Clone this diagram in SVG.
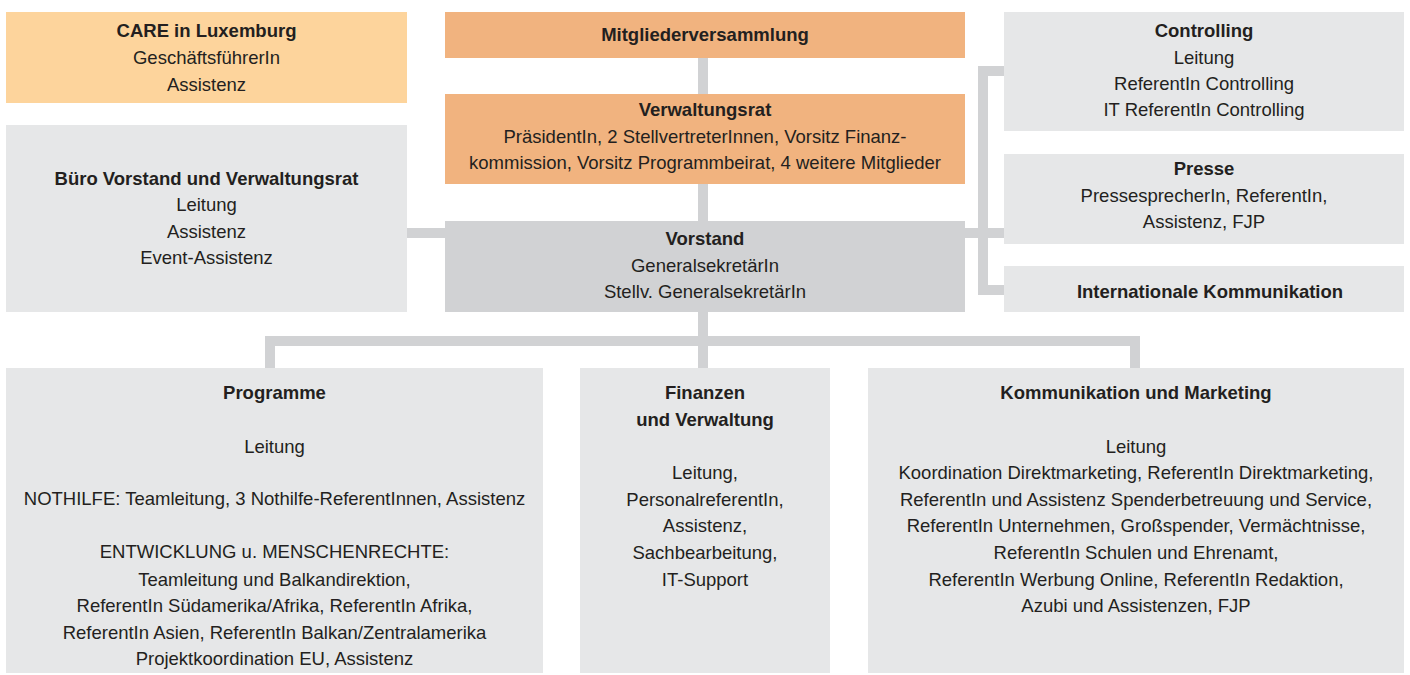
<svg xmlns="http://www.w3.org/2000/svg" width="1410" height="675" viewBox="0 0 1410 675">
<style>
.care{fill:#fdd49c}
.org{fill:#f1b37f}
.gr{fill:#e6e7e8}
.dk{fill:#d1d2d4}
.conn{fill:none;stroke:#d1d2d4;stroke-width:10;stroke-linejoin:miter}
text{font-family:"Liberation Sans",Arial,sans-serif;font-size:18.5px;fill:#231f20;text-anchor:middle}
.b{font-weight:bold}
</style>
<rect width="1410" height="675" fill="#ffffff"/>
<g id="connectors">
<path class="conn" d="M703,58 V368"/>
<path class="conn" d="M407,233 H445"/>
<path class="conn" d="M965,233 H1004"/>
<path class="conn" d="M1004,71 H983 V290 H1004"/>
<path class="conn" d="M270,368 V341 H1135 V368"/>
</g>
<g id="care">
<rect class="care" x="6" y="12" width="401" height="91"/>
<text x="206.5" y="37" class="b">CARE in Luxemburg</text>
<text x="206.5" y="64">GeschäftsführerIn</text>
<text x="206.5" y="91">Assistenz</text>
</g>
<g id="mitglieder">
<rect class="org" x="445" y="12" width="520" height="46"/>
<text x="705" y="41" class="b">Mitgliederversammlung</text>
</g>
<g id="verwaltungsrat">
<rect class="org" x="445" y="94" width="520" height="90"/>
<text x="705" y="116" class="b">Verwaltungsrat</text>
<text x="705" y="143">PräsidentIn, 2 StellvertreterInnen, Vorsitz Finanz-</text>
<text x="705" y="169">kommission, Vorsitz Programmbeirat, 4 weitere Mitglieder</text>
</g>
<g id="buero">
<rect class="gr" x="6" y="125" width="401" height="187"/>
<text x="206.5" y="185" class="b">Büro Vorstand und Verwaltungsrat</text>
<text x="206.5" y="211">Leitung</text>
<text x="206.5" y="238">Assistenz</text>
<text x="206.5" y="264">Event-Assistenz</text>
</g>
<g id="vorstand">
<rect class="dk" x="445" y="221" width="520" height="91"/>
<text x="705" y="245" class="b">Vorstand</text>
<text x="705" y="272">GeneralsekretärIn</text>
<text x="705" y="298">Stellv. GeneralsekretärIn</text>
</g>
<g id="controlling">
<rect class="gr" x="1004" y="12" width="400" height="119"/>
<text x="1204" y="37" class="b">Controlling</text>
<text x="1204" y="64">Leitung</text>
<text x="1204" y="90">ReferentIn Controlling</text>
<text x="1204" y="116">IT ReferentIn Controlling</text>
</g>
<g id="presse">
<rect class="gr" x="1004" y="154" width="400" height="90"/>
<text x="1204" y="175" class="b">Presse</text>
<text x="1204" y="202">PressesprecherIn, ReferentIn,</text>
<text x="1204" y="228">Assistenz, FJP</text>
</g>
<g id="intkomm">
<rect class="gr" x="1004" y="266" width="400" height="46"/>
<text x="1210" y="298" class="b">Internationale Kommunikation</text>
</g>
<g id="programme">
<rect class="gr" x="6" y="368" width="537" height="305"/>
<text x="274.5" y="399" class="b">Programme</text>
<text x="274.5" y="453">Leitung</text>
<text x="274.5" y="505">NOTHILFE: Teamleitung, 3 Nothilfe-ReferentInnen, Assistenz</text>
<text x="274.5" y="558">ENTWICKLUNG u. MENSCHENRECHTE:</text>
<text x="274.5" y="586">Teamleitung und Balkandirektion,</text>
<text x="274.5" y="612">ReferentIn Südamerika/Afrika, ReferentIn Afrika,</text>
<text x="274.5" y="639">ReferentIn Asien, ReferentIn Balkan/Zentralamerika</text>
<text x="274.5" y="665">Projektkoordination EU, Assistenz</text>
</g>
<g id="finanzen">
<rect class="gr" x="580" y="368" width="250" height="305"/>
<text x="705" y="399" class="b">Finanzen</text>
<text x="705" y="426" class="b">und Verwaltung</text>
<text x="705" y="479">Leitung,</text>
<text x="705" y="506">PersonalreferentIn,</text>
<text x="705" y="532">Assistenz,</text>
<text x="705" y="559">Sachbearbeitung,</text>
<text x="705" y="586">IT-Support</text>
</g>
<g id="kommunikation">
<rect class="gr" x="868" y="368" width="536" height="305"/>
<text x="1136" y="399" class="b">Kommunikation und Marketing</text>
<text x="1136" y="453">Leitung</text>
<text x="1136" y="479">Koordination Direktmarketing, ReferentIn Direktmarketing,</text>
<text x="1136" y="506">ReferentIn und Assistenz Spenderbetreuung und Service,</text>
<text x="1136" y="532">ReferentIn Unternehmen, Großspender, Vermächtnisse,</text>
<text x="1136" y="559">ReferentIn Schulen und Ehrenamt,</text>
<text x="1136" y="586">ReferentIn Werbung Online, ReferentIn Redaktion,</text>
<text x="1136" y="612">Azubi und Assistenzen, FJP</text>
</g>
</svg>
